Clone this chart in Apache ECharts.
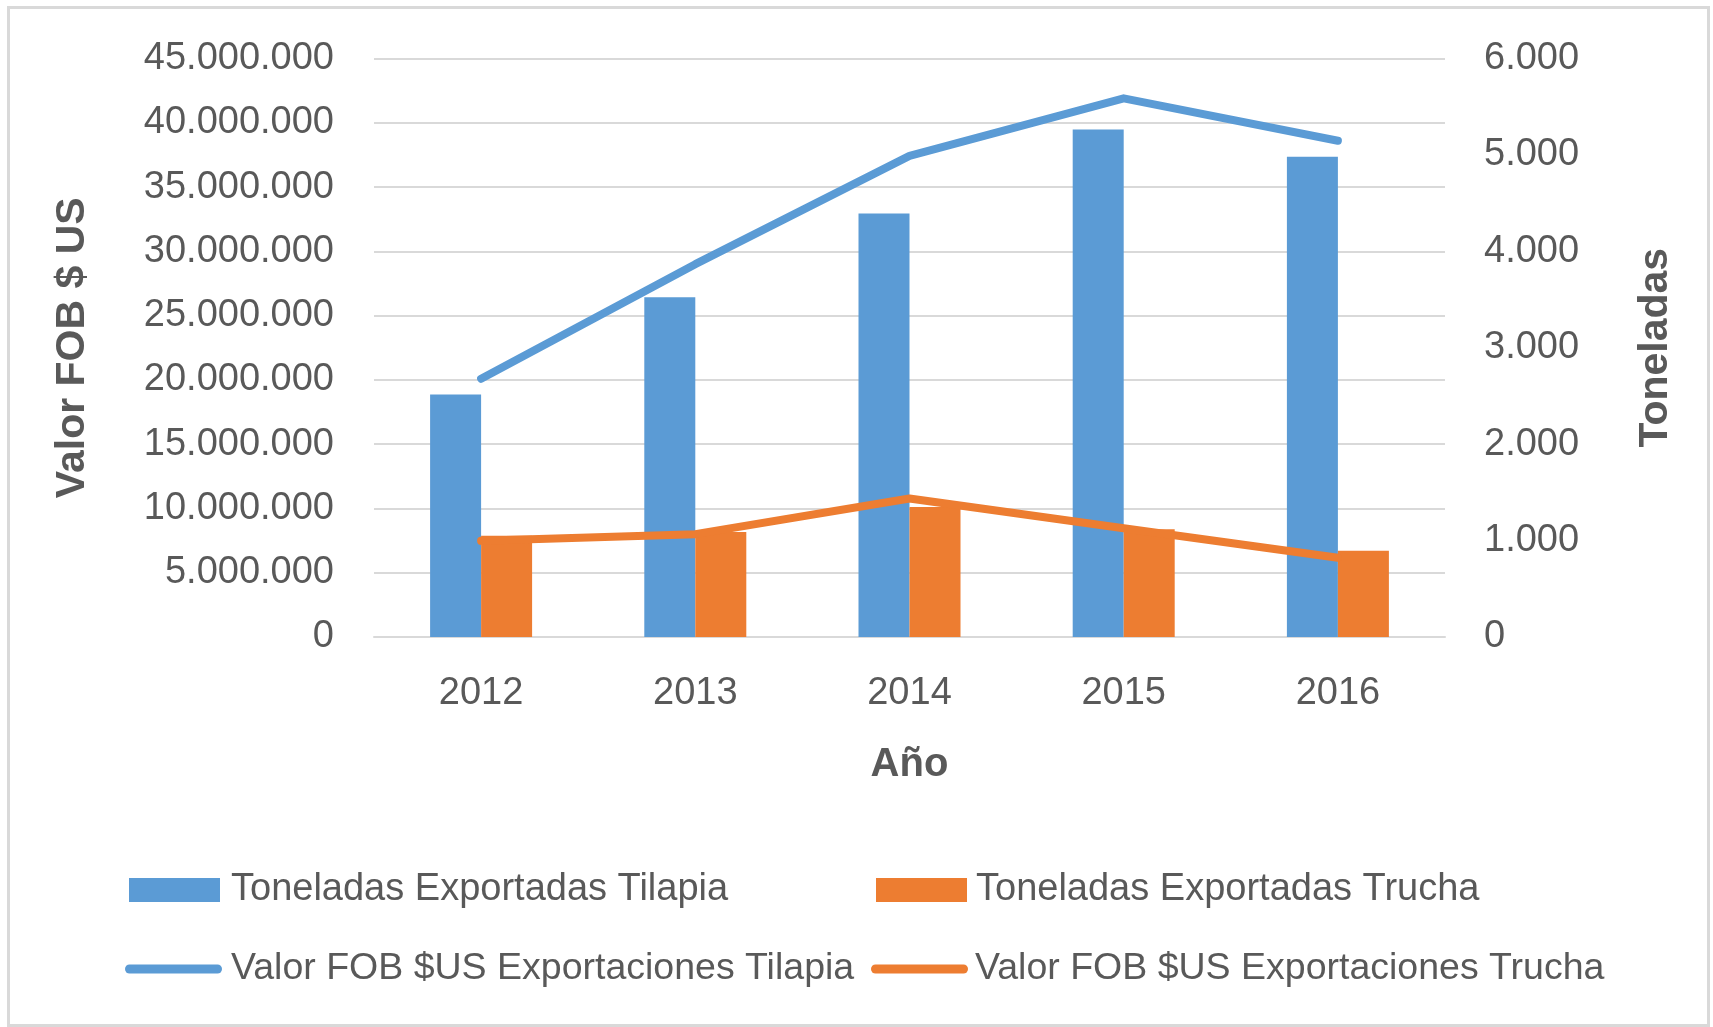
<!DOCTYPE html>
<html>
<head>
<meta charset="utf-8">
<title>Exportaciones Tilapia y Trucha</title>
<script src="https://cdn.jsdelivr.net/npm/echarts@6/dist/echarts.min.js"></script>
<style>
  html, body { margin: 0; padding: 0; background: #fff; }
  #chart { width: 1713px; height: 1027px; }
  #marco { position: absolute; left: 7px; top: 6px; width: 1703px; height: 1021px;
           border: 3px solid #d9d9d9; box-sizing: border-box; pointer-events: none; }
</style>
</head>
<body>
<div id="chart"></div>
<div id="marco"></div>
<script>
// datos
const anios = ['2012', '2013', '2014', '2015', '2016'];
const tonTilapia = [2516, 3523, 4393, 5263, 4980];
const tonTrucha = [1049, 1090, 1349, 1118, 894];
const fobTilapia = [20090000, 29000000, 37430000, 41900000, 38600000];
const fobTrucha = [7480000, 8000000, 10770000, 8460000, 6160000];

const nombres = [
    'Toneladas Exportadas Tilapia',
    'Toneladas Exportadas Trucha',
    'Valor FOB $US Exportaciones Tilapia',
    'Valor FOB $US Exportaciones Trucha'
];

const azul = '#5B9BD5';
const naranja = '#ED7D31';
const gris = '#595959';
const fuente = "'Liberation Sans', Arial, sans-serif";

// separador de miles con punto
function miles(v) {
    return String(v).replace(/\B(?=(\d{3})+(?!\d))/g, '.');
}

const chart = echarts.init(document.getElementById('chart'));

const iconoLinea = 'path://M4.5,0 L92.5,0 A4.5,4.5 0 0 1 92.5,9 L4.5,9 A4.5,4.5 0 0 1 4.5,0 Z';

function leyenda(nombre, left, top, icono, ancho, alto, tam, sep) {
    return {
        data: [{name: nombre, icon: icono}],
        left: left,
        top: top,
        padding: 0,
        itemWidth: ancho,
        itemHeight: alto,
        selectedMode: false,
        textStyle: {color: gris, fontSize: tam, fontFamily: fuente, padding: [0, 0, 0, sep]}
    };
}

const option = {
    backgroundColor: '#fff',
    animation: false,
    textStyle: {fontFamily: fuente},
    grid: {left: 374, right: 268, top: 58.5, bottom: 390},
    legend: [
        leyenda(nombres[0], 129, 871, 'rect', 91, 24, 38, 6),
        leyenda(nombres[1], 876, 871, 'rect', 91, 24, 38, 4),
        leyenda(nombres[2], 125, 950, iconoLinea, 97, 9, 37.5, 4),
        leyenda(nombres[3], 871, 950, iconoLinea, 97, 9, 37.5, 2)
    ],
    xAxis: {
        type: 'category',
        data: anios,
        name: 'Año',
        nameLocation: 'middle',
        nameGap: 108,
        nameTextStyle: {color: gris, fontSize: 40, fontWeight: 'bold', fontFamily: fuente},
        axisLine: {lineStyle: {color: '#d9d9d9', width: 2}},
        axisTick: {show: false},
        axisLabel: {color: gris, fontSize: 38, margin: 38, fontFamily: fuente}
    },
    yAxis: [
        {
            type: 'value',
            min: 0,
            max: 45000000,
            interval: 5000000,
            name: 'Valor FOB $ US',
            nameLocation: 'middle',
            nameGap: 281,
            nameTextStyle: {color: gris, fontSize: 41, fontWeight: 'bold', fontFamily: fuente},
            axisLine: {show: false},
            axisTick: {show: false},
            axisLabel: {color: gris, fontSize: 38, margin: 40, fontFamily: fuente, formatter: miles},
            splitLine: {lineStyle: {color: '#d9d9d9', width: 2}}
        },
        {
            type: 'value',
            min: 0,
            max: 6000,
            interval: 1000,
            name: 'Toneladas',
            nameLocation: 'middle',
            nameGap: 190,
            nameTextStyle: {color: gris, fontSize: 41, fontWeight: 'bold', fontFamily: fuente},
            axisLine: {show: false},
            axisTick: {show: false},
            axisLabel: {color: gris, fontSize: 38, margin: 39, fontFamily: fuente, formatter: miles},
            splitLine: {show: false}
        }
    ],
    series: [
        {
            name: nombres[0],
            type: 'bar',
            yAxisIndex: 1,
            data: tonTilapia,
            barWidth: 51,
            barGap: '0%',
            itemStyle: {color: azul}
        },
        {
            name: nombres[1],
            type: 'bar',
            yAxisIndex: 1,
            data: tonTrucha,
            barWidth: 51,
            barGap: '0%',
            itemStyle: {color: naranja}
        },
        {
            name: nombres[2],
            type: 'line',
            yAxisIndex: 0,
            data: fobTilapia,
            symbol: 'none',
            lineStyle: {color: azul, width: 8, cap: 'round', join: 'round'},
            itemStyle: {color: azul},
            z: 3
        },
        {
            name: nombres[3],
            type: 'line',
            yAxisIndex: 0,
            data: fobTrucha,
            symbol: 'none',
            lineStyle: {color: naranja, width: 8, cap: 'round', join: 'round'},
            itemStyle: {color: naranja},
            z: 3
        }
    ]
};

chart.setOption(option);
</script>
</body>
</html>
